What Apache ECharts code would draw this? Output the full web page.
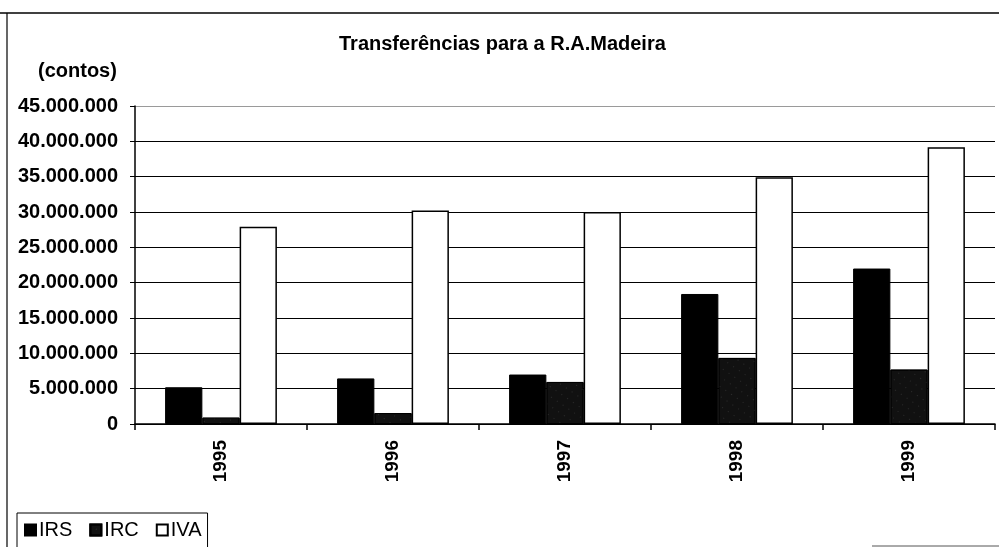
<!DOCTYPE html>
<html>
<head>
<meta charset="utf-8">
<script src="https://cdn.jsdelivr.net/npm/echarts@6/dist/echarts.min.js"></script>
<style>
  html, body { margin: 0; padding: 0; background: #fff; }
  #chart { width: 999px; height: 547px; }
</style>
</head>
<body>
<div id="chart"></div>
<script>
'use strict';

// dados (contos)
var years = ['1995', '1996', '1997', '1998', '1999'];
var irs = [5200000, 6450000, 7000000, 18400000, 22000000];
var irc = [900000, 1550000, 5950000, 9350000, 7700000];
var iva = [27900000, 30200000, 30000000, 34900000, 39150000];
var yTicks = { min: 0, max: 45000000, interval: 5000000 };

var FONT = "'Liberation Sans', Arial, sans-serif";

function fmtPt(v) {
    return String(v).replace(/\B(?=(\d{3})+(?!\d))/g, '.');
}

var myChart = echarts.init(document.getElementById('chart'));

// cores das linhas de grelha: a de cima sai mais clara no original
var nLines = (yTicks.max - yTicks.min) / yTicks.interval;
var gridColors = [];
for (var i = 0; i <= nLines; i++) {
    gridColors.push(i === nLines ? '#9a9a9a' : '#000');
}

var option = {
    backgroundColor: '#fff',
    animation: false,
    textStyle: { fontFamily: FONT },
    title: [{
        text: 'Transferências para a R.A.Madeira',
        left: 334,
        top: 29,
        textStyle: { fontFamily: FONT, fontSize: 20, fontWeight: 'bold', color: '#000' }
    }, {
        text: '(contos)',
        left: 33,
        top: 56,
        textStyle: { fontFamily: FONT, fontSize: 20, fontWeight: 'bold', color: '#000' }
    }],
    legend: {
        left: 17,
        top: 513,
        padding: [7, 6, 12, 7],
        itemWidth: 11,
        itemHeight: 11,
        itemGap: 17,
        borderColor: '#000',
        borderWidth: 1,
        borderRadius: 0,
        icon: 'rect',
        textStyle: { fontFamily: FONT, fontSize: 20, color: '#000', padding: [0, 0, 0, -2] },
        data: ['IRS', 'IRC', 'IVA']
    },
    grid: {
        left: 135,
        right: 4,
        top: 106,
        bottom: 123,
        containLabel: false
    },
    xAxis: {
        type: 'category',
        data: years,
        axisLine: { show: true, lineStyle: { color: '#000', width: 1.5 } },
        axisTick: { show: true, length: 6, lineStyle: { color: '#000', width: 1.5 } },
        axisLabel: {
            rotate: 90,
            margin: 16,
            fontFamily: FONT,
            fontSize: 19,
            fontWeight: 'bold',
            color: '#000'
        }
    },
    yAxis: {
        type: 'value',
        min: yTicks.min,
        max: yTicks.max,
        interval: yTicks.interval,
        axisLine: { show: true, lineStyle: { color: '#000', width: 1.5 } },
        axisTick: { show: true, length: 5, lineStyle: { color: '#000' } },
        splitLine: { show: true, lineStyle: { color: gridColors, width: 1.2 } },
        axisLabel: {
            margin: 17,
            fontFamily: FONT,
            fontSize: 20,
            fontWeight: 'bold',
            color: '#000',
            formatter: fmtPt
        }
    },
    series: [{
        name: 'IRS',
        type: 'bar',
        data: irs,
        barGap: '0%',
        barCategoryGap: '35%',
        itemStyle: { color: '#000', borderColor: '#000', borderWidth: 1 }
    }, {
        name: 'IRC',
        type: 'bar',
        data: irc,
        barGap: '0%',
        barCategoryGap: '35%',
        itemStyle: {
            color: '#111',
            borderColor: '#000',
            borderWidth: 1,
            decal: {
                symbol: 'rect',
                symbolSize: 0.5,
                color: 'rgba(255,255,255,0.45)',
                dashArrayX: [1, 6],
                dashArrayY: [1, 7],
                rotation: 0.6
            }
        }
    }, {
        name: 'IVA',
        type: 'bar',
        data: iva,
        barGap: '0%',
        barCategoryGap: '35%',
        itemStyle: { color: '#fff', borderColor: '#000', borderWidth: 1.5 }
    }],
    graphic: [{
        type: 'line',
        shape: { x1: 0, y1: 13, x2: 999, y2: 13 },
        style: { stroke: '#000', lineWidth: 1.5 }
    }, {
        type: 'line',
        shape: { x1: 7, y1: 13, x2: 7, y2: 547 },
        style: { stroke: '#000', lineWidth: 1.2 }
    }, {
        type: 'line',
        shape: { x1: 872, y1: 546, x2: 999, y2: 546 },
        style: { stroke: '#555', lineWidth: 1 }
    }]
};

myChart.setOption(option, true);
</script>
</body>
</html>
